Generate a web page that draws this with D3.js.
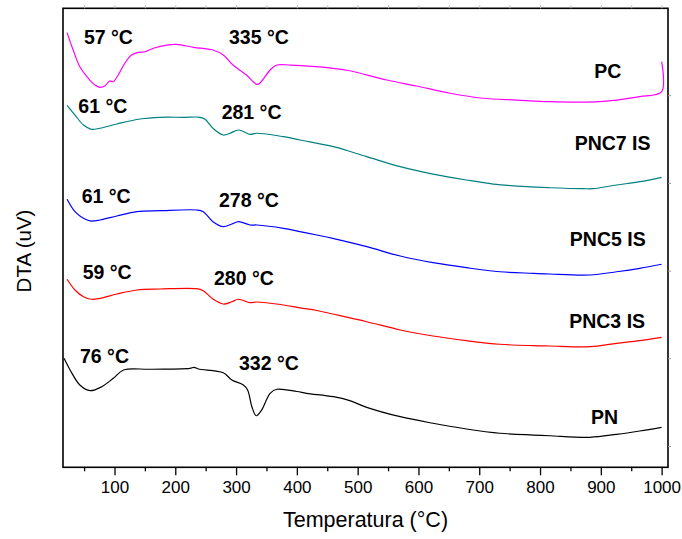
<!DOCTYPE html>
<html><head><meta charset="utf-8">
<script src="https://cdn.jsdelivr.net/npm/d3@7"></script>
<style>body{margin:0;background:#fff}svg{display:block}text{font-family:"Liberation Sans",Arial,sans-serif}</style>
</head><body><div id="chart"></div>
<script>
// Temperature (°C) / DTA (arbitrary offset units)
const pcT   = [22,32,43,57,68,76,84,92,98,106,117,128,139,150,164,186,202,230,262,279,295,317,328,334,339,356,367,389,432,459,487,548,597,652,706,761,816,898,926,964,1000,1000];
const pcV   = [4.713,4.515,4.325,4.193,4.116,4.090,4.105,4.162,4.154,4.230,4.364,4.458,4.489,4.496,4.535,4.572,4.580,4.546,4.515,4.458,4.344,4.230,4.154,4.124,4.136,4.287,4.344,4.344,4.325,4.307,4.279,4.173,4.105,4.022,3.965,3.945,3.926,3.926,3.945,3.983,4.040,4.382];
const pnc7T = [22,35,49,62,76,104,142,175,213,241,249,262,279,290,304,323,334,378,405,460,515,570,624,679,723,778,816,871,887,926,964,1000];
const pnc7V = [3.885,3.774,3.660,3.611,3.623,3.672,3.729,3.748,3.748,3.748,3.725,3.623,3.546,3.566,3.603,3.554,3.566,3.527,3.489,3.413,3.299,3.185,3.101,3.033,2.987,2.957,2.945,2.934,2.934,2.976,3.014,3.064];
const pnc5T = [22,35,49,60,76,104,137,175,235,246,262,279,293,304,323,334,378,405,433,459,515,570,624,679,734,789,816,882,926,964,1000];
const pnc5V = [2.813,2.672,2.596,2.566,2.577,2.623,2.672,2.683,2.691,2.672,2.558,2.501,2.531,2.558,2.520,2.520,2.482,2.444,2.406,2.368,2.273,2.166,2.090,2.033,1.987,1.969,1.961,1.950,1.987,2.026,2.072];
const pnc3T = [22,35,49,62,76,104,137,175,235,246,262,279,293,304,323,334,378,405,433,459,515,570,624,679,734,789,816,882,926,964,1000];
const pnc3V = [1.901,1.779,1.702,1.673,1.684,1.733,1.779,1.790,1.794,1.771,1.676,1.619,1.645,1.673,1.634,1.642,1.608,1.575,1.545,1.505,1.417,1.323,1.254,1.201,1.160,1.144,1.140,1.132,1.171,1.201,1.239];
const pnT   = [17,27,43,60,79,98,115,158,224,231,238,279,293,312,319,326,333,342,356,367,400,416,460,487,515,570,624,679,734,789,816,882,926,964,1000];
const pnV   = [1.000,0.867,0.696,0.631,0.676,0.772,0.867,0.875,0.886,0.897,0.878,0.836,0.753,0.696,0.639,0.448,0.345,0.410,0.601,0.647,0.621,0.601,0.562,0.517,0.441,0.334,0.259,0.194,0.145,0.125,0.117,0.099,0.133,0.171,0.213];

const seriesNames  = ["PC","PNC7 IS","PNC5 IS","PNC3 IS","PN"];
const seriesColors = ["#ff00ff","#008080","#0000ff","#ff0000","#000000"];
const nameT = [889,857,849,848,884];
const nameV = [4.193,3.375,2.281,1.349,0.251];

const peakText = ["57 °C","335 °C","61 °C","281 °C","61 °C","278 °C","59 °C","280 °C","76 °C","332 °C"];
const peakT    = [49.8,288.3,40.5,276.3,46,271.9,47.7,263.7,43.3,304.8];
const peakV    = [4.584,4.584,3.797,3.725,2.774,2.728,1.901,1.836,0.950,0.867];

const xTicks = [100,200,300,400,500,600,700,800,900,1000];
const xMinor = [50,150,250,350,450,550,650,750,850,950];
const yTicks = [0,1,2,3,4];

const W = 682, H = 539;
const L = 63, R = 668, T0 = 8.3, B = 467.3;
const x = d3.scaleLinear().domain([15.3, 1010.5]).range([L, R]);
const y = d3.scaleLinear().domain([-0.243, 4.991]).range([B, T0]);

const svg = d3.select("#chart").append("svg").attr("width", W).attr("height", H);

const series = [[pcT,pcV],[pnc7T,pnc7V],[pnc5T,pnc5V],[pnc3T,pnc3V],[pnT,pnV]];
const lineGen = d3.line().x(d => x(d[0])).y(d => y(d[1])).curve(d3.curveCatmullRom.alpha(0.5));

series.forEach((s, i) => {
  const pts = s[0].map((t, k) => [t, s[1][k]]);
  svg.append("path").datum(pts)
    .attr("fill", "none").attr("stroke", seriesColors[i]).attr("stroke-width", 1.2)
    .attr("stroke-linejoin", "round")
    .attr("d", lineGen);
});

// frame
svg.append("rect").attr("x", L).attr("y", T0).attr("width", R - L).attr("height", B - T0)
  .attr("fill", "none").attr("stroke", "#000").attr("stroke-width", 1.6);

// bottom axis
const xAxis = d3.axisBottom(x).tickValues(xTicks).tickSize(8).tickPadding(6).tickFormat(d3.format("d"));
const gx = svg.append("g").attr("transform", `translate(0,${B})`).call(xAxis);
gx.select(".domain").remove();
gx.selectAll(".tick line").attr("stroke", "#000").attr("stroke-width", 1.3);
gx.selectAll("text").style("font-size", "17px").attr("fill", "#000");
svg.append("g").attr("transform", `translate(0,${B})`)
  .call(d3.axisBottom(x).tickValues(xMinor).tickSize(4).tickFormat(""))
  .call(g => g.select(".domain").remove())
  .selectAll(".tick line").attr("stroke", "#000").attr("stroke-width", 1.3);

// top faint ticks
svg.append("g").attr("transform", `translate(0,${T0})`)
  .call(d3.axisTop(x).tickValues(xTicks.concat(xMinor)).tickSize(3).tickFormat(""))
  .call(g => g.select(".domain").remove())
  .selectAll(".tick line").attr("stroke", "#bbb");

// right faint ticks
svg.append("g").attr("transform", `translate(${R},0)`)
  .call(d3.axisRight(y).tickValues(yTicks).tickSize(3).tickFormat(""))
  .call(g => g.select(".domain").remove())
  .selectAll(".tick line").attr("stroke", "#999");

// axis titles
svg.append("text").attr("x", (L + R) / 2).attr("y", 527).attr("text-anchor", "middle")
  .style("font-size", "21.5px").text("Temperatura (°C)");
svg.append("text").attr("transform", `translate(31,251) rotate(-90)`).attr("text-anchor", "middle")
  .style("font-size", "20.5px").text("DTA (uV)");

// peak labels
svg.selectAll(".peak").data(peakText).enter().append("text")
  .attr("x", (d, i) => x(peakT[i])).attr("y", (d, i) => y(peakV[i]))
  .style("font-size", "19.5px").style("font-weight", "bold").text(d => d);

// series labels
svg.selectAll(".sname").data(seriesNames).enter().append("text")
  .attr("x", (d, i) => x(nameT[i])).attr("y", (d, i) => y(nameV[i]))
  .style("font-size", "19.5px").style("font-weight", "bold").text(d => d);
</script></body></html>
